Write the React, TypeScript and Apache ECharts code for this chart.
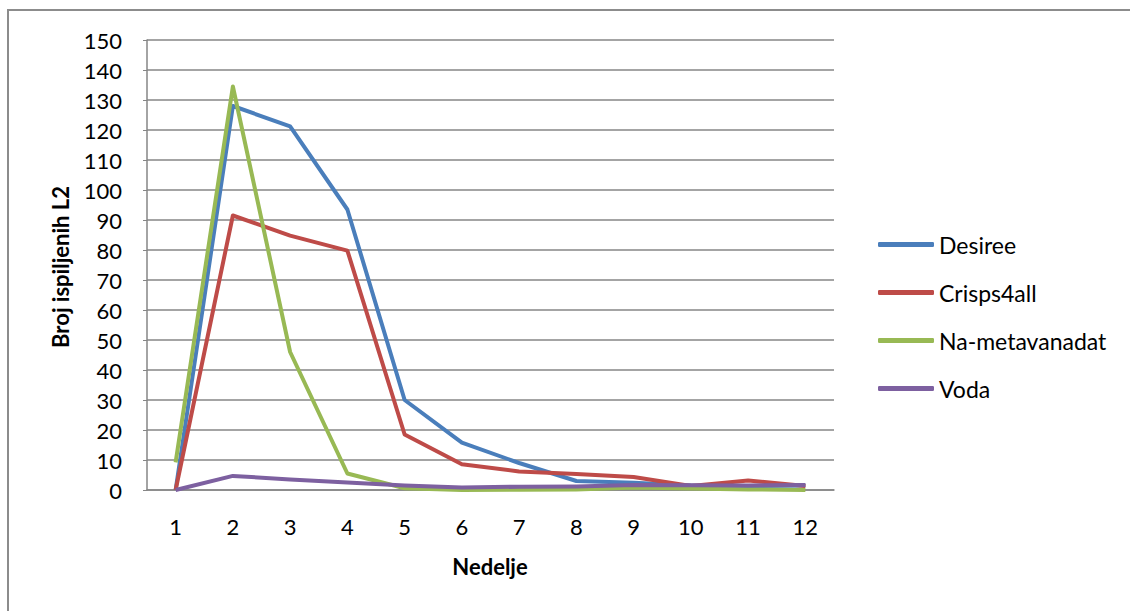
import React, { useEffect, useRef } from "react";
import * as echarts from "echarts";

const weeks = ["1", "2", "3", "4", "5", "6", "7", "8", "9", "10", "11", "12"];
const desiree = [0, 128, 121.2, 93.5, 30, 15.8, 9, 3, 2.4, 1.5, 1.3, 1.5];
const crisps4all = [0, 91.5, 84.8, 79.8, 18.5, 8.6, 6.2, 5.3, 4.3, 1.3, 3.2, 1.3];
const naMetavanadat = [9.2, 134.5, 46, 5.5, 0.6, 0, 0.1, 0.2, 0.8, 0.5, 0.2, 0];
const voda = [0, 4.7, 3.5, 2.5, 1.5, 0.8, 1.1, 1.2, 1.7, 1.6, 1.5, 1.7];

const seriesNames = ["Desiree", "Crisps4all", "Na-metavanadat", "Voda"];
const seriesColors = ["#4a7ebb", "#be4b48", "#98b954", "#7d60a0"];
const seriesData = [desiree, crisps4all, naMetavanadat, voda];

const FONT = "Lato, 'Liberation Sans', sans-serif";

export default function App() {
  const ref = useRef<HTMLDivElement>(null);
  useEffect(() => {
    if (!ref.current) return;
    const chart = echarts.init(ref.current, undefined, { renderer: "svg" });
    chart.setOption({
      animation: false,
      backgroundColor: "#ffffff",
      textStyle: { fontFamily: FONT },
      grid: { left: 147, top: 40, width: 687, height: 450, containLabel: false },
      xAxis: {
        type: "category",
        data: weeks,
        boundaryGap: true,
        axisLine: { show: true, lineStyle: { color: "#868686", width: 1.5 } },
        axisTick: { show: false },
        axisLabel: { color: "#000", fontSize: 22, margin: 25, fontFamily: FONT },
        splitLine: { show: false },
      },
      yAxis: {
        type: "value",
        min: 0,
        max: 150,
        interval: 10,
        axisLine: { show: true, lineStyle: { color: "#868686", width: 1.5 } },
        axisTick: { show: true, length: 4, lineStyle: { color: "#868686" } },
        axisLabel: { color: "#000", fontSize: 22, margin: 25, fontFamily: FONT },
        splitLine: { show: true, lineStyle: { color: "#868686", width: 1.5 } },
      },
      legend: {
        orient: "vertical",
        left: 873,
        top: 228,
        itemWidth: 56,
        itemHeight: 5,
        itemGap: 25,
        icon: "roundRect",
        textStyle: { color: "#000", fontSize: 23, fontFamily: FONT },
        data: seriesNames,
      },
      graphic: [
        {
          type: "rect",
          shape: { x: 8, y: 10, width: 1200, height: 700 },
          style: { fill: "none", stroke: "#8c8c8c", lineWidth: 2 },
          silent: true,
        },
        {
          type: "text",
          x: 60,
          y: 267,
          rotation: Math.PI / 2,
          style: {
            text: "Broj ispiljenih L2",
            fontSize: 22,
            fontWeight: "bold",
            fontFamily: FONT,
            fill: "#000",
            align: "center",
            verticalAlign: "middle",
          },
        },
        {
          type: "text",
          x: 490,
          y: 566,
          style: {
            text: "Nedelje",
            fontSize: 22,
            fontWeight: "bold",
            fontFamily: FONT,
            fill: "#000",
            align: "center",
            verticalAlign: "middle",
          },
        },
      ],
      series: seriesNames.map((name, i) => ({
        name,
        type: "line",
        data: seriesData[i],
        symbol: "none",
        color: seriesColors[i],
        lineStyle: { width: 4, color: seriesColors[i], join: "round" },
        itemStyle: { color: seriesColors[i] },
      })),
    });
    return () => chart.dispose();
  }, []);
  return (
    <div
      ref={ref}
      style={{ position: "fixed", left: 0, top: 0, width: 1130, height: 611 }}
    />
  );
}
